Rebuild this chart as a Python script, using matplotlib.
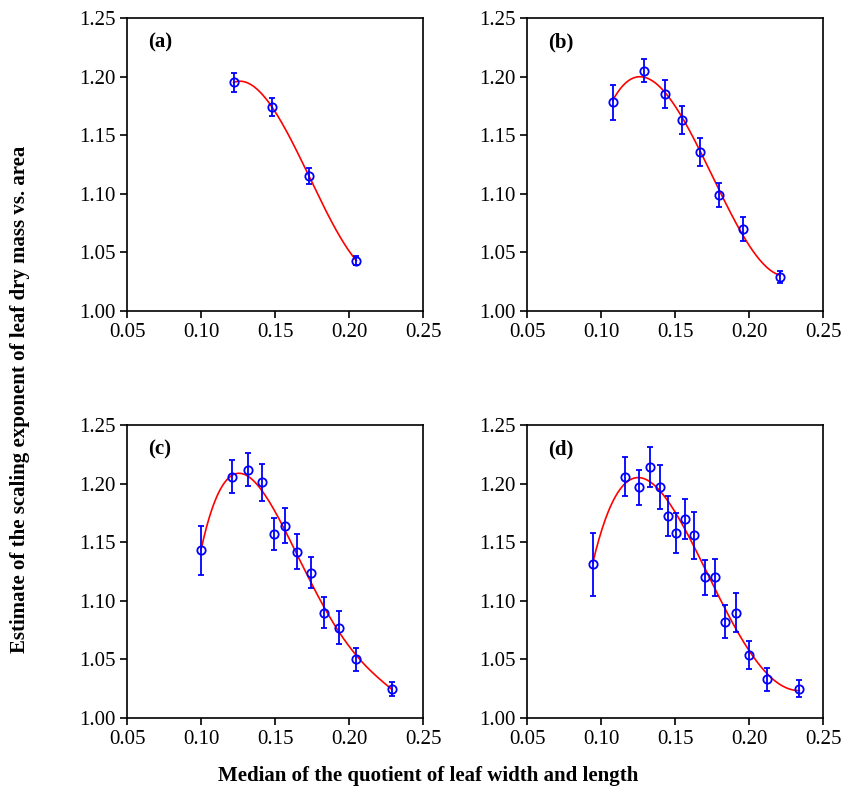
import numpy as np
import matplotlib
matplotlib.use('Agg')
import matplotlib.pyplot as plt

plt.rcParams['font.family'] = ['Liberation Serif', 'DejaVu Serif']

# data: x, y, error
xa = [0.122, 0.148, 0.173, 0.205]
ya = [1.195, 1.174, 1.115, 1.043]
ea = [0.008, 0.008, 0.007, 0.004]

xb = [0.108, 0.129, 0.143, 0.155, 0.167, 0.180, 0.196, 0.221]
yb = [1.178, 1.205, 1.185, 1.163, 1.136, 1.099, 1.070, 1.029]
eb = [0.015, 0.010, 0.012, 0.012, 0.012, 0.010, 0.010, 0.005]

xc = [0.100, 0.121, 0.132, 0.141, 0.149, 0.157, 0.165, 0.174, 0.183, 0.193, 0.205, 0.229]
yc = [1.143, 1.206, 1.212, 1.201, 1.157, 1.164, 1.142, 1.124, 1.090, 1.077, 1.050, 1.025]
ec = [0.021, 0.014, 0.014, 0.016, 0.014, 0.015, 0.015, 0.013, 0.013, 0.014, 0.010, 0.006]

xd = [0.0945, 0.116, 0.126, 0.133, 0.140, 0.145, 0.151, 0.157, 0.163, 0.170, 0.177,
      0.184, 0.191, 0.200, 0.212, 0.234]
yd = [1.131, 1.206, 1.197, 1.214, 1.197, 1.172, 1.158, 1.170, 1.156, 1.120, 1.120,
      1.082, 1.090, 1.054, 1.033, 1.025]
ed = [0.027, 0.017, 0.015, 0.017, 0.019, 0.017, 0.017, 0.017, 0.020, 0.015, 0.016,
      0.014, 0.017, 0.012, 0.010, 0.007]

panels = [('(a)', xa, ya, ea, 3), ('(b)', xb, yb, eb, 3),
          ('(c)', xc, yc, ec, 4), ('(d)', xd, yd, ed, 4)]

fig = plt.figure(figsize=(8.57, 7.99), dpi=100)
boxes = [(127, 18), (527, 18), (127, 425), (527, 425)]
W, H = 857, 799
for (lab, x, y, e, deg), (l, t) in zip(panels, boxes):
    ax = fig.add_axes([l / W, 1 - (t + 293) / H, 296 / W, 293 / H])
    x = np.array(x); y = np.array(y)
    p = np.polyfit(x, y, deg)
    xs = np.linspace(x.min(), x.max(), 200)
    ax.plot(xs, np.polyval(p, xs), color='red', lw=1.2)
    ax.errorbar(x, y, e, fmt='o', ms=6, mfc='none', mec='blue', mew=1.3,
                ecolor='blue', elinewidth=1.3, capsize=2.5, color='blue')
    ax.set_xlim(0.05, 0.25)
    ax.set_ylim(1.0, 1.25)
    ax.set_xticks(np.arange(0.05, 0.2501, 0.05))
    ax.set_yticks(np.arange(1.0, 1.2501, 0.05))
    ax.xaxis.set_major_formatter(plt.FormatStrFormatter('%.2f'))
    ax.yaxis.set_major_formatter(plt.FormatStrFormatter('%.2f'))
    ax.tick_params(direction='out', labelsize=15, length=5, width=1.2)
    for s in ax.spines.values():
        s.set_linewidth(1.2)
    ax.text(0.07, 0.9, lab, transform=ax.transAxes, fontsize=15, fontweight='bold')

fig.text(20 / W, 0.5, 'Estimate of the scaling exponent of leaf dry mass vs. area',
         rotation=90, va='center', ha='center', fontsize=15, fontweight='bold')
fig.text(0.5, 1 - 776 / H, 'Median of the quotient of leaf width and length',
         ha='center', va='center', fontsize=15, fontweight='bold')
fig.savefig('out.png', dpi=100)
